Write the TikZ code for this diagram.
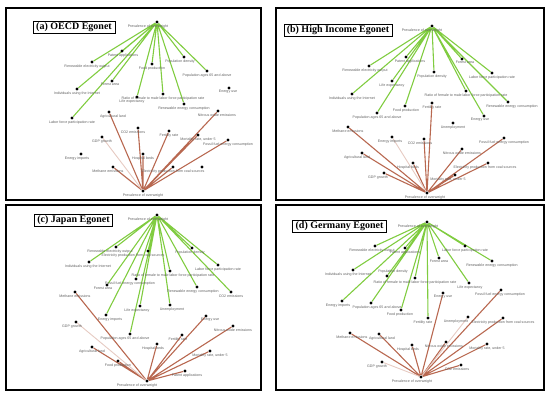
\documentclass[tikz,border=0pt]{standalone}
\usepackage{fontspec}
\newfontfamily\lblfamily{Liberation Sans}
\newfontfamily\ttlfamily{Liberation Serif}
\usepackage{tikz}
\usetikzlibrary{positioning,backgrounds}
\definecolor{egreen}{RGB}{128,204,64}
\definecolor{ebrown}{RGB}{184,104,80}
\definecolor{lblgray}{RGB}{95,95,95}
\tikzset{
  % graph vertex: small black disc, label underneath
  dot/.style={circle, fill=black, inner sep=0pt, minimum size=3.4pt, label distance=0.2pt},
  lbl/.style={font=\lblfamily\fontsize{3.6}{4.2}\selectfont, text=lblgray, inner sep=0.4pt},
  % edges from the two ego vertices
  gedge/.style={draw=egreen, line width=1.1pt},
  redge/.style={draw=ebrown, line width=1.1pt},
  redge-faint/.style={draw=ebrown!35, line width=0.9pt},
  % panel frame and caption box
  panel/.style={draw, line width=1.3pt},
  titlebox/.style={draw, line width=0.5pt, font=\ttlfamily\bfseries\fontsize{10}{12}\selectfont,
                   inner xsep=3pt, inner ysep=1.5pt, fill=white}
}
\begin{document}
\begin{tikzpicture}[x=1pt, y=-1pt]
\useasboundingbox (0,0) rectangle (550,398);

% ============== PANEL FRAMES ==============
\draw[panel] (6,8) rectangle (261,200);
\draw[panel] (276,8) rectangle (544,200);
\draw[panel] (6,205) rectangle (261,390);
\draw[panel] (276,205) rectangle (544,390);

% ============== (a) OECD ==============
\node[titlebox] (atitle) at (74,27.5) {(a) OECD Egonet};
\node[dot, label={[lbl,xshift=-9pt]below:Prevalence of overweight}] (atop) at (157,22) {};
\node[dot, label={[lbl]below:Prevalence of overweight}] (abot) at (143,191) {};
\node[dot, label={[lbl,xshift=1pt]below:Patent applications}] (a-pat) at (122,51) {};
\node[dot, label={[lbl,xshift=-5pt]below:Renewable electricity output}] (a-reo) at (92,62) {};
\node[dot, label={[lbl]below:Food production}] (a-food) at (152,64) {};
\node[dot, label={[lbl,xshift=-4pt]below:Population density}] (a-pden) at (184,57) {};
\node[dot, label={[lbl]below:Population ages 65 and above}] (a-p65) at (207,71) {};
\node[dot, label={[lbl,xshift=-2pt]below:Forest area}] (a-for) at (112,81) {};
\node[dot, label={[lbl]below:Individuals using the Internet}] (a-int) at (77,89) {};
\node[dot, label={[lbl,xshift=-1pt]below:Energy use}] (a-euse) at (229,88) {};
\node[dot, label={[lbl]below:Ratio of female to male labor force participation rate}] (a-ratio) at (163,94) {};
\node[dot, label={[lbl,xshift=-5pt]below:Life expectancy}] (a-life) at (137,97) {};
\node[dot, label={[lbl]below:Renewable energy consumption}] (a-rec) at (184,104) {};
\node[dot, label={[lbl,xshift=4pt]below:Agricultural land}] (a-agr) at (109,112) {};
\node[dot, label={[lbl,xshift=-1pt]below:Nitrous oxide emissions}] (a-nox) at (218,111) {};
\node[dot, label={[lbl]below:Labor force participation rate}] (a-lfp) at (72,118) {};
\node[dot, label={[lbl,xshift=-5pt]below:CO2 emissions}] (a-co2) at (138,128) {};
\node[dot, label={[lbl]below:Fertility rate}] (a-fert) at (169,131) {};
\node[dot, label={[lbl]below:{Mortality rate, under 5}}] (a-mort) at (198,135) {};
\node[dot, label={[lbl]below:GDP growth}] (a-gdp) at (102,137) {};
\node[dot, label={[lbl]below:Fossil fuel energy consumption}] (a-ffc) at (228,140) {};
\node[dot, label={[lbl,xshift=-4pt]below:Energy imports}] (a-eimp) at (81,154) {};
\node[dot, label={[lbl]below:Hospital beds}] (a-hosp) at (143,154) {};
\node[dot, label={[lbl,xshift=-5pt]below:Methane emissions}] (a-meth) at (113,167) {};
\node[dot, label={[lbl]below:Electricity production from coal sources}] (a-elec) at (173,167) {};
\node[dot] (a-extra) at (202,167) {};

\begin{scope}[on background layer]
\draw[gedge] (atop) -- (a-pat) (atop) -- (a-reo) (atop) -- (a-food) (atop) -- (a-pden)
  (atop) -- (a-p65) (atop) -- (a-for) (atop) -- (a-int) (atop) -- (a-ratio)
  (atop) -- (a-life) (atop) -- (a-rec) (atop) -- (a-lfp);
\draw[redge] (abot) -- (a-agr) (abot) -- (a-nox) (abot) -- (a-co2) (abot) -- (a-fert)
  (abot) -- (a-mort) (abot) -- (a-ffc) (abot) -- (a-hosp) (abot) -- (a-meth) (abot) -- (a-elec);
\draw[redge-faint] (abot) -- (a-gdp);
\end{scope}

% ============== (b) HIGH INCOME ==============
\node[titlebox] (btitle) at (338,30) {(b) High Income Egonet};
\node[dot, label={[lbl,xshift=-10pt]below:Prevalence of overweight}] (btop) at (432,26) {};
\node[dot, label={[lbl,xshift=-2pt]below:Prevalence of overweight}] (bbot) at (427,193) {};
\node[dot, label={[lbl,xshift=4pt]below:Patent applications}] (b-pat) at (406,57) {};
\node[dot, label={[lbl,xshift=3pt]below:Forest area}] (b-for) at (462,59) {};
\node[dot, label={[lbl,xshift=-4pt]below:Renewable electricity output}] (b-reo) at (369,66) {};
\node[dot, label={[lbl,xshift=-2pt]below:Population density}] (b-pden) at (434,72) {};
\node[dot, label={[lbl]below:Labor force participation rate}] (b-lfp) at (492,73) {};
\node[dot, label={[lbl]below:Life expectancy}] (b-life) at (392,81) {};
\node[dot, label={[lbl]below:Individuals using the Internet}] (b-int) at (352,94) {};
\node[dot, label={[lbl]below:Ratio of female to male labor force participation rate}] (b-ratio) at (466,91) {};
\node[dot, label={[lbl,xshift=4pt]below:Renewable energy consumption}] (b-rec) at (508,102) {};
\node[dot, label={[lbl,xshift=1pt]below:Food production}] (b-food) at (405,106) {};
\node[dot, label={[lbl]below:Fertility rate}] (b-fert) at (432,103) {};
\node[dot, label={[lbl]below:Population ages 65 and above}] (b-p65) at (377,113) {};
\node[dot, label={[lbl,xshift=-4pt]below:Energy use}] (b-euse) at (484,116) {};
\node[dot, label={[lbl]below:Unemployment}] (b-unem) at (453,123) {};
\node[dot, label={[lbl]below:Methane emissions}] (b-meth) at (348,127) {};
\node[dot, label={[lbl,xshift=-2pt]below:Energy imports}] (b-eimp) at (392,137) {};
\node[dot, label={[lbl,xshift=-4pt]below:CO2 emissions}] (b-co2) at (424,139) {};
\node[dot, label={[lbl]below:Fossil fuel energy consumption}] (b-ffc) at (504,138) {};
\node[dot, label={[lbl]below:Nitrous oxide emissions}] (b-nox) at (462,149) {};
\node[dot, label={[lbl,xshift=-5pt]below:Agricultural land}] (b-agr) at (362,153) {};
\node[dot, label={[lbl,xshift=-5pt]below:Hospital beds}] (b-hosp) at (413,163) {};
\node[dot, label={[lbl,xshift=-3pt]below:Electricity production from coal sources}] (b-elec) at (488,163) {};
\node[dot, label={[lbl,xshift=-6pt]below:GDP growth}] (b-gdp) at (384,173) {};
\node[dot, label={[lbl,xshift=-7pt]below:{Mortality rate, under 5}}] (b-mort) at (455,175) {};

\begin{scope}[on background layer]
\draw[gedge] (btop) -- (b-pat) (btop) -- (b-for) (btop) -- (b-reo) (btop) -- (b-pden)
  (btop) -- (b-lfp) (btop) -- (b-life) (btop) -- (b-int) (btop) -- (b-ratio)
  (btop) -- (b-rec) (btop) -- (b-food) (btop) -- (b-p65) (btop) -- (b-euse);
\draw[redge] (bbot) -- (b-fert) (bbot) -- (b-meth) (bbot) -- (b-co2) (bbot) -- (b-ffc)
  (bbot) -- (b-nox) (bbot) -- (b-agr) (bbot) -- (b-hosp) (bbot) -- (b-elec)
  (bbot) -- (b-gdp) (bbot) -- (b-mort);
\draw[redge-faint] (bbot) -- (b-eimp);
\end{scope}

% ============== (c) JAPAN ==============
\node[titlebox] (ctitle) at (73.5,220) {(c) Japan Egonet};
\node[dot, label={[lbl,xshift=-9pt]below:Prevalence of overweight}] (ctop) at (157,215) {};
\node[dot, label={[lbl,xshift=-10pt]below:Prevalence of overweight}] (cbot) at (147,381) {};
\node[dot, label={[lbl,xshift=-6pt]below:Renewable electricity output}] (c-reo) at (116,247) {};
\node[dot, label={[lbl,xshift=-15pt]below:Electricity production from coal sources}] (c-elec) at (148,251) {};
\node[dot, label={[lbl,xshift=-2pt]below:Population density}] (c-pden) at (192,248) {};
\node[dot, label={[lbl,xshift=-1pt]below:Individuals using the Internet}] (c-int) at (89,262) {};
\node[dot, label={[lbl]below:Labor force participation rate}] (c-lfp) at (218,265) {};
\node[dot, label={[lbl,xshift=3pt]below:Ratio of female to male labor force participation rate}] (c-ratio) at (170,271) {};
\node[dot, label={[lbl,xshift=-6pt]below:Fossil fuel energy consumption}] (c-ffc) at (136,279) {};
\node[dot, label={[lbl,xshift=-4pt]below:Forest area}] (c-for) at (107,285) {};
\node[dot, label={[lbl,xshift=-4pt]below:Renewable energy consumption}] (c-rec) at (197,287) {};
\node[dot, label={[lbl]below:CO2 emissions}] (c-co2) at (231,292) {};
\node[dot, label={[lbl]below:Methane emissions}] (c-meth) at (75,292) {};
\node[dot, label={[lbl,xshift=-3pt]below:Life expectancy}] (c-life) at (140,306) {};
\node[dot, label={[lbl,xshift=2pt]below:Unemployment}] (c-unem) at (170,305) {};
\node[dot, label={[lbl,xshift=4pt]below:Energy imports}] (c-eimp) at (106,315) {};
\node[dot, label={[lbl,xshift=4pt]below:Energy use}] (c-euse) at (206,316) {};
\node[dot, label={[lbl,xshift=-4pt]below:GDP growth}] (c-gdp) at (76,322) {};
\node[dot, label={[lbl]below:Nitrous oxide emissions}] (c-nox) at (233,326) {};
\node[dot, label={[lbl,xshift=-5pt]below:Population ages 65 and above}] (c-p65) at (130,334) {};
\node[dot, label={[lbl,xshift=-4pt]below:Fertility rate}] (c-fert) at (182,335) {};
\node[dot, label={[lbl,xshift=-4pt]below:Hospital beds}] (c-hosp) at (157,344) {};
\node[dot, label={[lbl]below:Agricultural land}] (c-agr) at (92,347) {};
\node[dot, label={[lbl]below:{Mortality rate, under 5}}] (c-mort) at (210,351) {};
\node[dot, label={[lbl]below:Food production}] (c-food) at (118,361) {};
\node[dot, label={[lbl,xshift=2pt]below:Patent applications}] (c-pat) at (185,371) {};

\begin{scope}[on background layer]
\draw[gedge] (ctop) -- (c-reo) (ctop) -- (c-elec) (ctop) -- (c-pden) (ctop) -- (c-int)
  (ctop) -- (c-lfp) (ctop) -- (c-ratio) (ctop) -- (c-ffc) (ctop) -- (c-for)
  (ctop) -- (c-rec) (ctop) -- (c-co2) (ctop) -- (c-life) (ctop) -- (c-unem)
  (ctop) -- (c-eimp) (ctop) -- (c-p65);
\draw[redge] (cbot) -- (c-meth) (cbot) -- (c-euse) (cbot) -- (c-nox) (cbot) -- (c-fert)
  (cbot) -- (c-hosp) (cbot) -- (c-agr) (cbot) -- (c-mort) (cbot) -- (c-food) (cbot) -- (c-pat);
\draw[redge-faint] (cbot) -- (c-gdp);
\end{scope}

% ============== (d) GERMANY ==============
\node[titlebox] (dtitle) at (339.5,226) {(d) Germany Egonet};
\node[dot, label={[lbl,xshift=-9pt]below:Prevalence of overweight}] (dtop) at (427,222) {};
\node[dot, label={[lbl,xshift=-9pt]below:Prevalence of overweight}] (dbot) at (421,377) {};
\node[dot, label={[lbl,xshift=-3pt]below:Renewable electricity output}] (d-reo) at (375,246) {};
\node[dot, label={[lbl]below:Patent applications}] (d-pat) at (405,248) {};
\node[dot, label={[lbl]below:Labor force participation rate}] (d-lfp) at (465,246) {};
\node[dot, label={[lbl]below:Forest area}] (d-for) at (439,258) {};
\node[dot, label={[lbl]below:Renewable energy consumption}] (d-rec) at (492,261) {};
\node[dot, label={[lbl,xshift=-5pt]below:Individuals using the Internet}] (d-int) at (353,270) {};
\node[dot, label={[lbl,xshift=6pt]above:Population density}] (d-pden) at (387,276) {};
\node[dot, label={[lbl]below:Ratio of female to male labor force participation rate}] (d-ratio) at (415,278) {};
\node[dot, label={[lbl,xshift=1pt]below:Life expectancy}] (d-life) at (469,283) {};
\node[dot, label={[lbl]below:Energy use}] (d-euse) at (443,293) {};
\node[dot, label={[lbl,xshift=-1pt]below:Fossil fuel energy consumption}] (d-ffc) at (501,290) {};
\node[dot, label={[lbl,xshift=-4pt]below:Energy imports}] (d-eimp) at (342,301) {};
\node[dot, label={[lbl,xshift=6pt]below:Population ages 65 and above}] (d-p65) at (371,303) {};
\node[dot, label={[lbl,xshift=-1pt]below:Food production}] (d-food) at (401,310) {};
\node[dot, label={[lbl,xshift=-5pt]below:Fertility rate}] (d-fert) at (428,318) {};
\node[dot, label={[lbl,xshift=-12pt]below:Unemployment}] (d-unem) at (468,317) {};
\node[dot, label={[lbl]below:Electricity production from coal sources}] (d-elec) at (503,318) {};
\node[dot, label={[lbl,xshift=2pt]below:Methane emissions}] (d-meth) at (350,333) {};
\node[dot, label={[lbl,xshift=3pt]below:Agricultural land}] (d-agr) at (379,334) {};
\node[dot, label={[lbl,xshift=-4pt]below:Hospital beds}] (d-hosp) at (412,345) {};
\node[dot, label={[lbl,xshift=-2pt]below:Nitrous oxide emissions}] (d-nox) at (446,342) {};
\node[dot, label={[lbl]below:{Mortality rate, under 5}}] (d-mort) at (487,344) {};
\node[dot, label={[lbl,xshift=-5pt]below:GDP growth}] (d-gdp) at (382,362) {};
\node[dot, label={[lbl,xshift=-4pt]below:CO2 emissions}] (d-co2) at (461,365) {};

\begin{scope}[on background layer]
\draw[gedge] (dtop) -- (d-reo) (dtop) -- (d-pat) (dtop) -- (d-lfp) (dtop) -- (d-for)
  (dtop) -- (d-rec) (dtop) -- (d-int) (dtop) -- (d-pden) (dtop) -- (d-ratio)
  (dtop) -- (d-life) (dtop) -- (d-eimp) (dtop) -- (d-p65) (dtop) -- (d-food) (dtop) -- (d-fert);
\draw[redge] (dbot) -- (d-euse) (dbot) -- (d-ffc) (dbot) -- (d-elec) (dbot) -- (d-meth)
  (dbot) -- (d-agr) (dbot) -- (d-hosp) (dbot) -- (d-nox) (dbot) -- (d-mort) (dbot) -- (d-co2);
\draw[redge-faint] (dbot) -- (d-unem) (dbot) -- (d-gdp);
\end{scope}

\end{tikzpicture}
\end{document}
